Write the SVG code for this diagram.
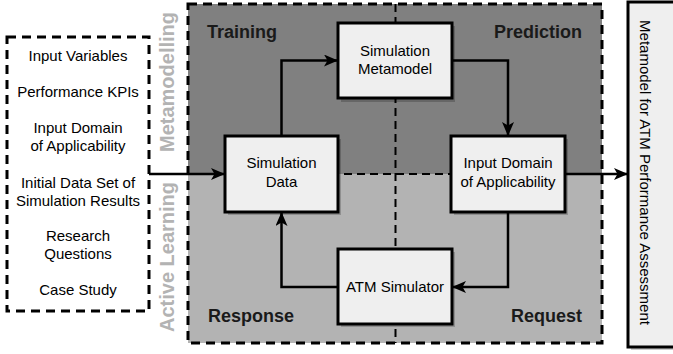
<svg xmlns="http://www.w3.org/2000/svg" width="673" height="354" viewBox="0 0 673 354">
  <style>
    .txt { font-family: "Liberation Sans", Arial, Helvetica, sans-serif; font-size: 15px; fill: #000; text-anchor: middle; }
    .phase { font-family: "Liberation Sans", Arial, Helvetica, sans-serif; font-size: 18px; font-weight: bold; fill: #1a1a1a; }
    .side { font-family: "Liberation Sans", Arial, Helvetica, sans-serif; font-size: 20px; font-weight: bold; fill: #b3b3b3; text-anchor: middle; }
    .box { fill: #efefef; stroke: #000; stroke-width: 3; }
    .shadow { fill: #000; fill-opacity: 0.2; }
    .dash { fill: none; stroke: #000; stroke-width: 3; stroke-dasharray: 9 6; }
    .divider { fill: none; stroke: #000; stroke-width: 2; stroke-dasharray: 8 5; }
    .conn { fill: none; stroke: #000; stroke-width: 2.5; marker-end: url(#arrow); }
  </style>
  <defs>
    <marker id="arrow" viewBox="0 0 14 12" refX="13" refY="6" markerWidth="14" markerHeight="12" markerUnits="userSpaceOnUse" orient="auto">
      <path d="M0,0 L14,6 L0,12 L3.5,6 Z" fill="#000"/>
    </marker>
  </defs>

  <!-- Process area: metamodelling (top) and active learning (bottom) -->
  <g id="process-area">
    <rect x="188" y="4" width="414" height="170" fill="#808080"/>
    <rect x="188" y="174" width="414" height="169" fill="#b3b3b3"/>
    <line class="divider" x1="188" y1="174" x2="602" y2="174"/>
    <line class="divider" x1="395.5" y1="4" x2="395.5" y2="343"/>
    <rect class="dash" x="188" y="4" width="414" height="339"/>
    <text class="phase" x="207" y="38">Training</text>
    <text class="phase" x="582" y="38" text-anchor="end">Prediction</text>
    <text class="phase" x="208" y="322">Response</text>
    <text class="phase" x="582" y="322" text-anchor="end">Request</text>
  </g>

  <!-- Loop labels -->
  <g id="label-metamodelling">
    <text class="side" transform="translate(174,82) rotate(-90)">Metamodelling</text>
  </g>
  <g id="label-active-learning">
    <text class="side" transform="translate(174,257) rotate(-90)">Active Learning</text>
  </g>

  <!-- Inputs -->
  <g id="inputs">
    <rect class="dash" x="7" y="37" width="142" height="274" fill="#fff"/>
    <text class="txt" x="78" y="60.5">Input Variables</text>
    <text class="txt" x="78" y="97">Performance KPIs</text>
    <text class="txt" x="78" y="133">Input Domain</text>
    <text class="txt" x="78" y="151">of Applicability</text>
    <text class="txt" x="78" y="188">Initial Data Set of</text>
    <text class="txt" x="78" y="206">Simulation Results</text>
    <text class="txt" x="78" y="241">Research</text>
    <text class="txt" x="78" y="259">Questions</text>
    <text class="txt" x="78" y="295">Case Study</text>
  </g>

  <!-- Connectors -->
  <g id="connectors">
    <path class="conn" d="M149,174 H224"/>
    <path class="conn" d="M281.5,136 V60.5 H337"/>
    <path class="conn" d="M452,60.5 H508 V135"/>
    <path class="conn" d="M508,212 V287 H453"/>
    <path class="conn" d="M338,287 H281.5 V213"/>
    <path class="conn" d="M565,174 H627"/>
  </g>

  <g id="simulation-data">
    <rect class="shadow" x="228" y="139" width="113" height="76"/>
    <rect class="box" x="225" y="136" width="113" height="76"/>
    <text class="txt" x="281.5" y="168">Simulation</text>
    <text class="txt" x="281.5" y="187">Data</text>
  </g>

  <g id="simulation-metamodel">
    <rect class="shadow" x="341" y="26" width="114" height="76"/>
    <rect class="box" x="338" y="23" width="114" height="75"/>
    <text class="txt" x="395" y="55.5">Simulation</text>
    <text class="txt" x="395" y="74">Metamodel</text>
  </g>

  <g id="input-domain">
    <rect class="shadow" x="454" y="139" width="114" height="76"/>
    <rect class="box" x="451" y="136" width="114" height="76"/>
    <text class="txt" x="508" y="168">Input Domain</text>
    <text class="txt" x="508" y="187">of Applicability</text>
  </g>

  <g id="atm-simulator">
    <rect class="shadow" x="341" y="252" width="114" height="75"/>
    <rect class="box" x="338" y="249" width="114" height="75"/>
    <text class="txt" x="395" y="292">ATM Simulator</text>
  </g>

  <g id="output">
    <rect class="shadow" x="631" y="5" width="60" height="345"/>
    <rect class="box" x="628" y="2" width="60" height="345"/>
    <text class="txt" transform="translate(640,172.5) rotate(90)">Metamodel for ATM Performance Assessment</text>
  </g>
</svg>
